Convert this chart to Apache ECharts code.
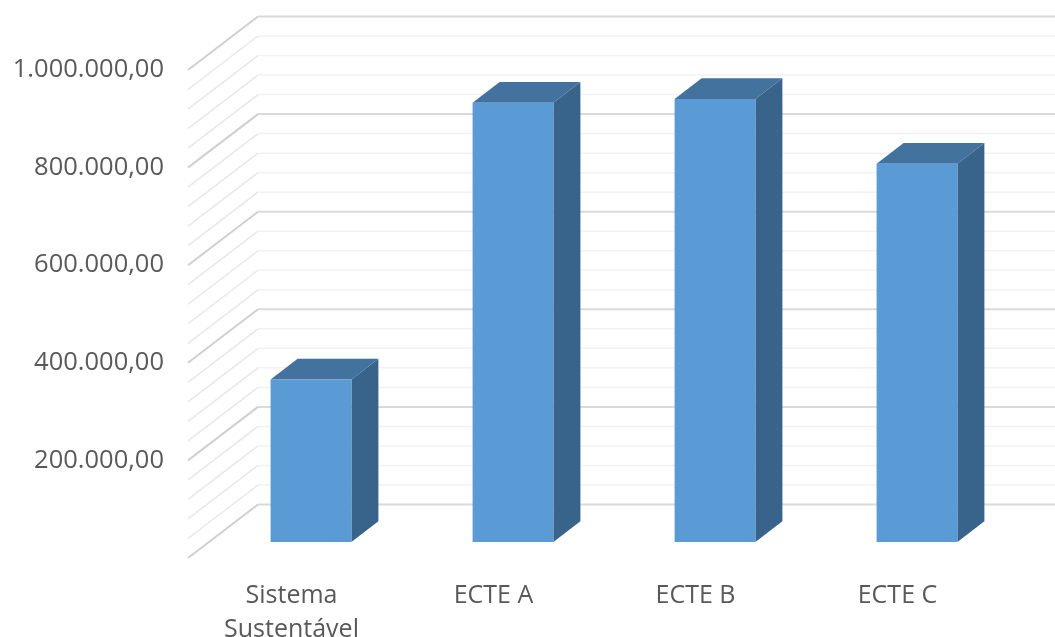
<!DOCTYPE html>
<html>
<head>
<meta charset="utf-8">
<style>html,body{margin:0;padding:0;background:#fff}#c{width:1055px;height:637px;filter:blur(0.5px)}</style>
<script src="https://cdn.jsdelivr.net/npm/echarts@6/dist/echarts.min.js"></script>
</head>
<body>
<div id="c"></div>
<script>
const categories = ['Sistema\nSustentável', 'ECTE A', 'ECTE B', 'ECTE C'];
const values = [333000, 900000, 908000, 775000];
const majorGrid = [0, 200000, 400000, 600000, 800000, 1000000];
const minorGrid = [40000, 80000, 120000, 160000, 240000, 280000, 320000, 360000, 440000, 480000, 520000, 560000, 640000, 680000, 720000, 760000, 840000, 880000, 920000, 960000];

const wallDepth = [70, 53.5];
const barOffset = [22, 16];
const barDepth = [27, 20.7];
const barRatio = 0.4;

function wallLine(color, width, backColor) {
  return function (params, api) {
    const cs = params.coordSys;
    const y = api.coord([0, api.value(0)])[1];
    const bx = cs.x + wallDepth[0], by = y - wallDepth[1];
    return {
      type: 'group',
      children: [
        { type: 'line', shape: { x1: cs.x, y1: y, x2: bx, y2: by }, style: { stroke: color, lineWidth: width } },
        { type: 'line', shape: { x1: bx, y1: by, x2: 1100, y2: by }, style: { stroke: backColor, lineWidth: width } }
      ]
    };
  };
}

function barItem(params, api) {
  const idx = api.value(0);
  const top = api.coord([idx, api.value(1)]);
  const base = api.coord([idx, 0]);
  const w = api.size([1, 0])[0] * barRatio;
  const x0 = top[0] - w / 2 + barOffset[0], x1 = x0 + w;
  const y0 = top[1] - barOffset[1], y1 = base[1] - barOffset[1];
  const dx = barDepth[0], dy = barDepth[1];
  return {
    type: 'group',
    children: [
      { type: 'polygon', shape: { points: [[x1, y0], [x1 + dx, y0 - dy], [x1 + dx, y1 - dy], [x1, y1]] }, style: { fill: '#38638A' } },
      { type: 'polygon', shape: { points: [[x0, y0], [x0 + dx, y0 - dy], [x1 + dx, y0 - dy], [x1, y0]] }, style: { fill: '#43729F' } },
      { type: 'rect', shape: { x: x0, y: y0, width: w, height: y1 - y0 }, style: { fill: '#5B9BD5' } }
    ]
  };
}

const chart = echarts.init(document.getElementById('c'), null, { renderer: 'canvas' });
chart.setOption({
  animation: false,
  backgroundColor: '#fff',
  grid: { left: 188, top: 70, width: 808, height: 488, outerBoundsMode: 'none' },
  xAxis: {
    type: 'category',
    data: categories,
    axisLine: { show: false },
    axisTick: { show: false },
    axisLabel: { color: '#595959', fontFamily: 'Open Sans', fontSize: 25, lineHeight: 34, margin: 20.5, padding: [0, 0, 0, 5], interval: 0 }
  },
  yAxis: {
    type: 'value',
    min: 0,
    max: 1000000,
    interval: 200000,
    splitLine: { show: false },
    axisLine: { show: false },
    axisTick: { show: false },
    axisLabel: {
      color: '#595959', fontFamily: 'Open Sans', fontSize: 25.5, margin: 24,
      formatter: function (v) {
        if (v === 0) return '';
        return v.toLocaleString('de-DE', { minimumFractionDigits: 2, maximumFractionDigits: 2 });
      }
    }
  },
  series: [
    { type: 'custom', silent: true, z: 1, data: minorGrid.map(v => [v]), encode: { y: 0 }, renderItem: wallLine('#e8e8e8', 1.5, '#f2f2f2') },
    { type: 'custom', silent: true, z: 2, data: majorGrid.map(v => [v]), encode: { y: 0 }, renderItem: wallLine('#d0d0d0', 2, '#dadada') },
    { type: 'custom', silent: true, z: 3, data: values.map((v, i) => [i, v]), encode: { x: 0, y: 1 }, renderItem: barItem }
  ]
});
</script>
</body>
</html>
